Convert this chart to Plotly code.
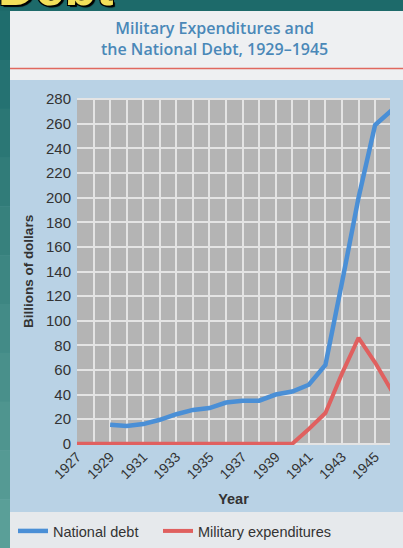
import plotly.graph_objects as go

# ---- data ----
debt_years = [1929, 1930, 1931, 1932, 1933, 1934, 1935, 1936, 1937, 1938,
              1939, 1940, 1941, 1942, 1943, 1944, 1945, 1946]
debt_values = [15.5, 14.5, 16, 19.5, 24, 27.5, 29, 33.5, 35, 35,
               40, 42.5, 48, 64, 131, 200, 259, 271]

mil_years = [1927, 1928, 1929, 1930, 1931, 1932, 1933, 1934, 1935, 1936,
             1937, 1938, 1939, 1940, 1941, 1942, 1943, 1944, 1945, 1946]
mil_values = [0, 0, 0, 0, 0, 0, 0, 0, 0, 0,
              0, 0, 0, 0, 12, 25, 57, 86, 66, 43]

y_ticks = [0, 20, 40, 60, 80, 100, 120, 140, 160, 180, 200, 220, 240, 260, 280]
x_tick_years = [1927, 1929, 1931, 1933, 1935, 1937, 1939, 1941, 1943, 1945]

# ---- page geometry (pixels) ----
W, H = 403, 548
L, R, T, B = 77, 13, 98, 103
PW = W - L - R
PH = H - T - B


def px(x):
    return (x - L) / PW


def py(y):
    return (H - B - y) / PH


def cy(y):
    return (H - y) / H


def cx(x):
    return x / W


BLUE = "#4a8fd6"
RED = "#e0605f"
TEXT = "#333333"

fig = go.Figure()
fig.add_trace(go.Scatter(x=debt_years, y=debt_values, mode="lines",
                         name="National debt", legend="legend",
                         line=dict(color=BLUE, width=4.5)))
fig.add_trace(go.Scatter(x=mil_years, y=mil_values, mode="lines",
                         name="Military expenditures", legend="legend2",
                         line=dict(color=RED, width=4)))

shapes = []
# title band (light paper)
shapes.append(dict(type="rect", xref="paper", yref="paper", layer="below",
                   x0=px(10), x1=px(W), y0=py(80), y1=py(11),
                   fillcolor="#eef0f2", line=dict(width=0)))
# legend band
shapes.append(dict(type="rect", xref="paper", yref="paper", layer="below",
                   x0=px(10), x1=px(W), y0=py(H), y1=py(512),
                   fillcolor="#e6e9ec", line=dict(width=0)))
# red rule under the title
shapes.append(dict(type="line", xref="paper", yref="paper", layer="below",
                   x0=px(10), x1=px(W), y0=py(68.5), y1=py(68.5),
                   line=dict(color="#e0685f", width=1.6)))
# teal slide background: top strip
shapes.append(dict(type="rect", xref="paper", yref="paper", layer="below",
                   x0=px(0), x1=px(W), y0=py(11), y1=py(0),
                   fillcolor="#1d6a6a", line=dict(width=0)))
# teal slide background: left strip (stepped gradient)
teal_steps = ["#1f6d6d", "#257272", "#2b7775", "#317c79", "#37817d",
              "#3d8682", "#438b87", "#49908b", "#4f958f", "#559a94", "#5a9f98"]
n = len(teal_steps)
for i, c in enumerate(teal_steps):
    y0 = 11 + i * (H - 11) / n
    y1 = 11 + (i + 1) * (H - 11) / n
    shapes.append(dict(type="rect", xref="paper", yref="paper", layer="below",
                       x0=px(0), x1=px(10), y0=py(y1 + 0.5), y1=py(y0),
                       fillcolor=c, line=dict(width=0)))

annotations = [
    dict(text="Military Expenditures and<br>the National Debt, 1929\u20131945",
         xref="paper", yref="paper", x=px(214), y=py(15), xanchor="center",
         yanchor="top", showarrow=False, align="center",
         font=dict(family="Open Sans", size=16, color="#4a88b8", weight=600)),
    dict(text="Debt", xref="paper", yref="paper", x=px(-4), y=py(18),
         xanchor="left", yanchor="bottom", showarrow=False,
         font=dict(family="Liberation Sans", size=52, color="#f3e05a",
                   weight="bold",
                   shadow="1px 1px 0 #000, -1px -1px 0 #000, 1px -1px 0 #000, -1px 1px 0 #000, 2px 2px 1px #000")),
]

legend_font = dict(family="Liberation Sans", size=14.5, color=TEXT)

fig.update_layout(
    width=W, height=H,
    margin=dict(l=L, r=R, t=T, b=B, pad=0, autoexpand=False),
    paper_bgcolor="#b9d2e5",
    plot_bgcolor="#b4b4b4",
    shapes=shapes,
    annotations=annotations,
    showlegend=True,
    legend=dict(orientation="h", xref="container", yref="container",
                x=cx(13), y=cy(531), xanchor="left", yanchor="middle",
                bgcolor="rgba(0,0,0,0)", font=legend_font),
    legend2=dict(orientation="h", xref="container", yref="container",
                 x=cx(158), y=cy(531), xanchor="left", yanchor="middle",
                 bgcolor="rgba(0,0,0,0)", font=legend_font),
    font=dict(family="Liberation Sans", color=TEXT),
)

fig.update_xaxes(
    range=[1927, 1945.9],
    tickmode="array", tickvals=x_tick_years,
    ticktext=[str(v) for v in x_tick_years],
    tickangle=-45, tickfont=dict(size=14, color=TEXT),
    showgrid=True, gridcolor="#e4e4e4", gridwidth=1.5,
    minor=dict(dtick=1, tick0=1927, showgrid=True, gridcolor="#e4e4e4",
               gridwidth=1.5),
    zeroline=False, showline=False, ticks="",
    title=dict(text="<b>Year</b>", font=dict(size=14.5, color=TEXT), standoff=12),
)
fig.update_yaxes(
    range=[-1, 281],
    tickmode="array", tickvals=y_ticks,
    tickfont=dict(size=15, color=TEXT),
    showgrid=True, gridcolor="#e4e4e4", gridwidth=1.5,
    zeroline=False, showline=False, ticks="", ticklabelstandoff=5,
    title=dict(text="<b>Billions of dollars</b>",
               font=dict(size=13.5, color=TEXT), standoff=9),
)

fig.write_html("out.html",
               config={"displayModeBar": False},
               post_script="document.body.style.margin='0';"
                           "document.body.style.overflow='hidden';")
